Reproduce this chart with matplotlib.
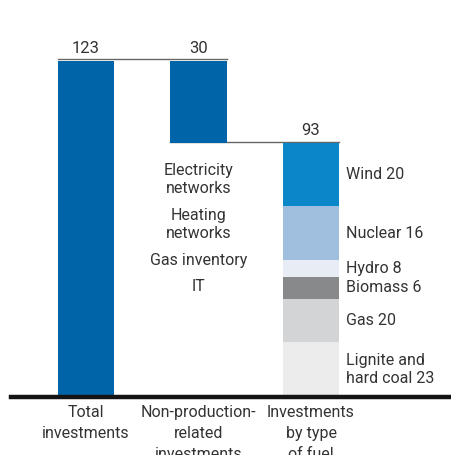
import matplotlib.pyplot as plt

# waterfall data (billion)
total = 123
non_production = 30
by_fuel = 93

cat_labels = ["Total\ninvestments", "Non-production-\nrelated\ninvestments", "Investments\nby type\nof fuel"]

# fuel segments, bottom to top (heights as drawn)
fuel_values = [20, 16, 8, 6, 20, 23]
fuel_labels = ["Lignite and\nhard coal 23", "Gas 20", "Biomass 6", "Hydro 8", "Nuclear 16", "Wind 20"]
fuel_colors = ["#ececec", "#d3d4d6", "#88898b", "#e8edf5", "#a0bedd", "#0a87c8"]

non_prod_items = ["Electricity\nnetworks", "Heating\nnetworks", "Gas inventory", "IT"]
non_prod_y = [80, 63.5, 50.5, 41]

blue = "#0064a8"
txt = "#333333"
plt.rcParams['font.family'] = ['Roboto', 'DejaVu Sans']

fig = plt.figure(figsize=(4.52, 4.56), dpi=100)
ax = fig.add_axes([0, 0, 1, 1])
ax.set_xlim(-0.764, 3.253)
ax.set_ylim(-21.2, 145.7)
ax.axis("off")

w = 0.5
ax.bar(0, total, width=w, color=blue, zorder=2)
ax.bar(1, non_production, bottom=total - non_production, width=w, color=blue, zorder=2)

bottom = 0
for v, c, lab in zip(fuel_values, fuel_colors, fuel_labels):
    ax.bar(2, v, bottom=bottom, width=w, color=c, zorder=2)
    ax.text(2 + w / 2 + 0.06, bottom + v / 2 + 0.3, lab, ha="left", va="center",
            fontsize=11.5, color=txt, linespacing=1.25)
    bottom += v

# connectors
ax.plot([-w / 2, 1 + w / 2], [total + 0.6, total + 0.6], color="#666666", lw=1, zorder=3)
ax.plot([1 - w / 2, 2 + w / 2], [by_fuel + 0.4, by_fuel + 0.4], color="#666666", lw=1, zorder=1)

# value labels
ax.text(0, total + 2.2, str(total), ha="center", va="bottom", fontsize=12, color=txt)
ax.text(1, total + 2.2, str(non_production), ha="center", va="bottom", fontsize=12, color=txt)
ax.text(2, by_fuel + 2.2, str(by_fuel), ha="center", va="bottom", fontsize=12, color=txt)

for item, y in zip(non_prod_items, non_prod_y):
    ax.text(1, y, item, ha="center", va="center", fontsize=11.5, color=txt, linespacing=1.3)

# baseline
ax.axhline(0, xmin=0.024, xmax=1, color="#141414", lw=3.2, zorder=4)

for i, lab in enumerate(cat_labels):
    ax.text(i, -2.4, lab, ha="center", va="top", fontsize=11.5, color=txt, linespacing=1.5)

fig.savefig("out.png", dpi=100)
